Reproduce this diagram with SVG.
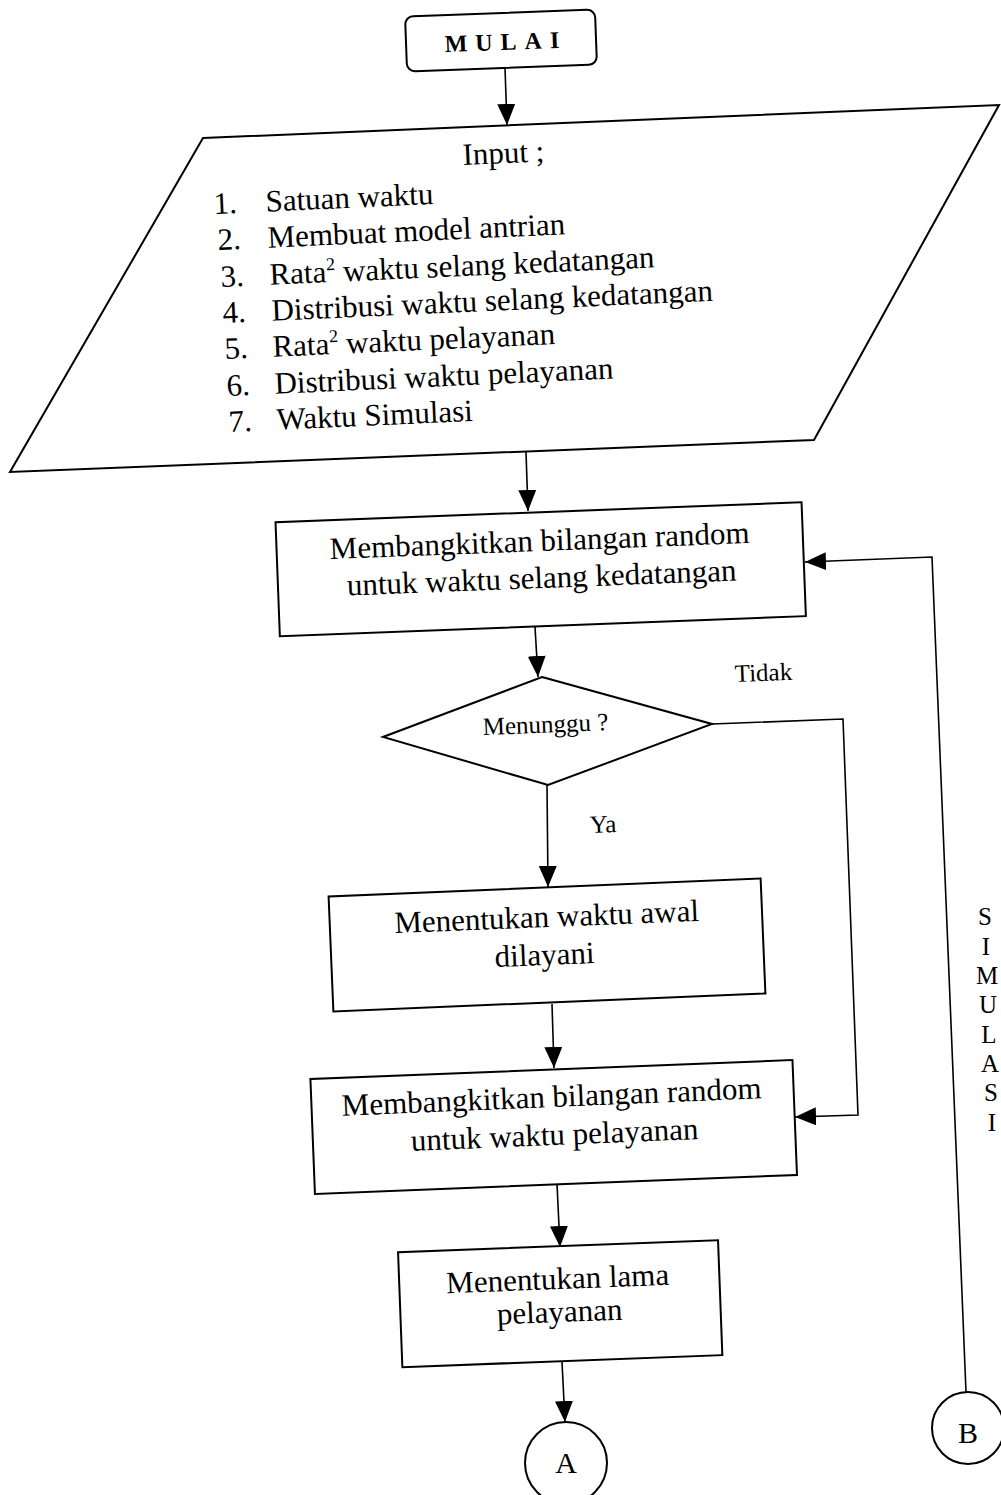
<svg xmlns="http://www.w3.org/2000/svg" width="1001" height="1495" viewBox="0 0 1001 1495">
<style>
.shape{fill:#fff;stroke:#000;stroke-width:2}
.conn{fill:none;stroke:#000;stroke-width:1.6}
.t{font-family:"Liberation Serif","Times New Roman",serif;fill:#000}
.box{font-size:31px;text-anchor:middle}
.lst{font-size:31px}
.lbl{font-size:25px}
.sup{font-size:18px}
</style>
<defs>
<marker id="ah" markerUnits="userSpaceOnUse" viewBox="0 0 21 18" markerWidth="21" markerHeight="18" refX="21" refY="9" orient="auto">
<path d="M0,0 L21,9 L0,18 z" fill="#000"/>
</marker>
</defs>
<rect width="1001" height="1495" fill="#fff"/>

<g id="connectors">
<path class="conn" d="M505,68 L507,125" marker-end="url(#ah)"/>
<path class="conn" d="M526,452 L528,511" marker-end="url(#ah)"/>
<path class="conn" d="M535,627 L538,677" marker-end="url(#ah)"/>
<path class="conn" d="M547,785 L548,887" marker-end="url(#ah)"/>
<path class="conn" d="M552,1004 L554,1068" marker-end="url(#ah)"/>
<path class="conn" d="M557,1184 L560,1247" marker-end="url(#ah)"/>
<path class="conn" d="M562,1362 L565,1422" marker-end="url(#ah)"/>
<path class="conn" d="M712,724 L843,719 L858,1115 L795,1117" marker-end="url(#ah)"/>
<path class="conn" d="M966,1392 L932,557 L805,562" marker-end="url(#ah)"/>
<text class="t lbl" x="735" y="682" transform="rotate(-2.2 735 682)">Tidak</text>
<text class="t lbl" x="590" y="833" transform="rotate(-2.2 590 833)">Ya</text>
<text class="t lbl" text-anchor="middle"><tspan x="985" y="925">S</tspan><tspan x="986" y="955">I</tspan><tspan x="987" y="984">M</tspan><tspan x="988" y="1013">U</tspan><tspan x="989" y="1043">L</tspan><tspan x="990" y="1072">A</tspan><tspan x="991" y="1101">S</tspan><tspan x="992" y="1131">I</tspan></text>
</g>

<g id="start">
<rect class="shape" x="406" y="13" width="190" height="55" rx="8" transform="rotate(-2.1 501 40.5)"/>
<text class="t" x="506" y="50" font-size="24" font-weight="bold" letter-spacing="8" text-anchor="middle" transform="rotate(-2.1 502 45)">MULAI</text>
</g>

<g id="input">
<polygon class="shape" stroke-width="2.4" points="203,138 999,105 814,440 10,472"/>
<text class="t lst" x="463" y="165" transform="rotate(-2.5 463 165)">Input ;</text>
<text class="t lst" x="214" y="214" transform="rotate(-2.6 214 214)">1.<tspan x="266">Satuan waktu</tspan></text>
<text class="t lst" x="218" y="250" transform="rotate(-2.6 218 250)">2.<tspan x="268">Membuat model antrian</tspan></text>
<text class="t lst" x="221" y="287" transform="rotate(-2.6 221 287)">3.<tspan x="270">Rata</tspan><tspan class="sup" dy="-12">2</tspan><tspan dy="12"> waktu selang kedatangan</tspan></text>
<text class="t lst" x="223" y="323" transform="rotate(-2.6 223 323)">4.<tspan x="272">Distribusi waktu selang kedatangan</tspan></text>
<text class="t lst" x="225" y="359" transform="rotate(-2.6 225 359)">5.<tspan x="273">Rata</tspan><tspan class="sup" dy="-12">2</tspan><tspan dy="12"> waktu pelayanan</tspan></text>
<text class="t lst" x="227" y="396" transform="rotate(-2.6 227 396)">6.<tspan x="275">Distribusi waktu pelayanan</tspan></text>
<text class="t lst" x="229" y="432" transform="rotate(-2.6 229 432)">7.<tspan x="277">Waktu Simulasi</tspan></text>
</g>

<g id="gen-arrival">
<rect class="shape" x="277.5" y="512.2" width="526.4" height="114" transform="rotate(-2.18 540.7 569.2)"/>
<text class="t box" x="540" y="551" transform="rotate(-2.2 540 551)">Membangkitkan bilangan random</text>
<text class="t box" x="542" y="588" transform="rotate(-2.2 542 588)">untuk waktu selang kedatangan</text>
</g>

<g id="decision">
<polygon class="shape" stroke-width="2.4" points="542,677 712,724 548,785 383,737"/>
<text class="t lbl" x="483" y="735" transform="rotate(-2.2 483 735)">Menunggu ?</text>
</g>

<g id="start-service">
<rect class="shape" x="330.8" y="887.5" width="432.4" height="115" transform="rotate(-2.39 547 945)"/>
<text class="t box" x="547" y="927" transform="rotate(-2.3 547 927)">Menentukan waktu awal</text>
<text class="t box" x="545" y="965" transform="rotate(-2.3 545 965)">dilayani</text>
</g>

<g id="gen-service">
<rect class="shape" x="312.5" y="1069.5" width="482.4" height="115" transform="rotate(-2.26 553.7 1127)"/>
<text class="t box" x="552" y="1107" transform="rotate(-2.4 552 1107)">Membangkitkan bilangan random</text>
<text class="t box" x="555" y="1145" transform="rotate(-2.4 555 1145)">untuk waktu pelayanan</text>
</g>

<g id="duration">
<rect class="shape" x="400.1" y="1246.2" width="320.2" height="115" transform="rotate(-2.15 560.2 1303.7)"/>
<text class="t box" x="558" y="1289" transform="rotate(-2.2 558 1289)">Menentukan lama</text>
<text class="t box" x="560" y="1322" transform="rotate(-2.2 560 1322)">pelayanan</text>
</g>

<g id="connector-a">
<circle class="shape" cx="566" cy="1463" r="41"/>
<text class="t" x="566" y="1473" font-size="30" text-anchor="middle">A</text>
</g>

<g id="connector-b">
<circle class="shape" cx="968" cy="1428" r="36"/>
<text class="t" x="968" y="1443" font-size="30" text-anchor="middle">B</text>
</g>
</svg>
